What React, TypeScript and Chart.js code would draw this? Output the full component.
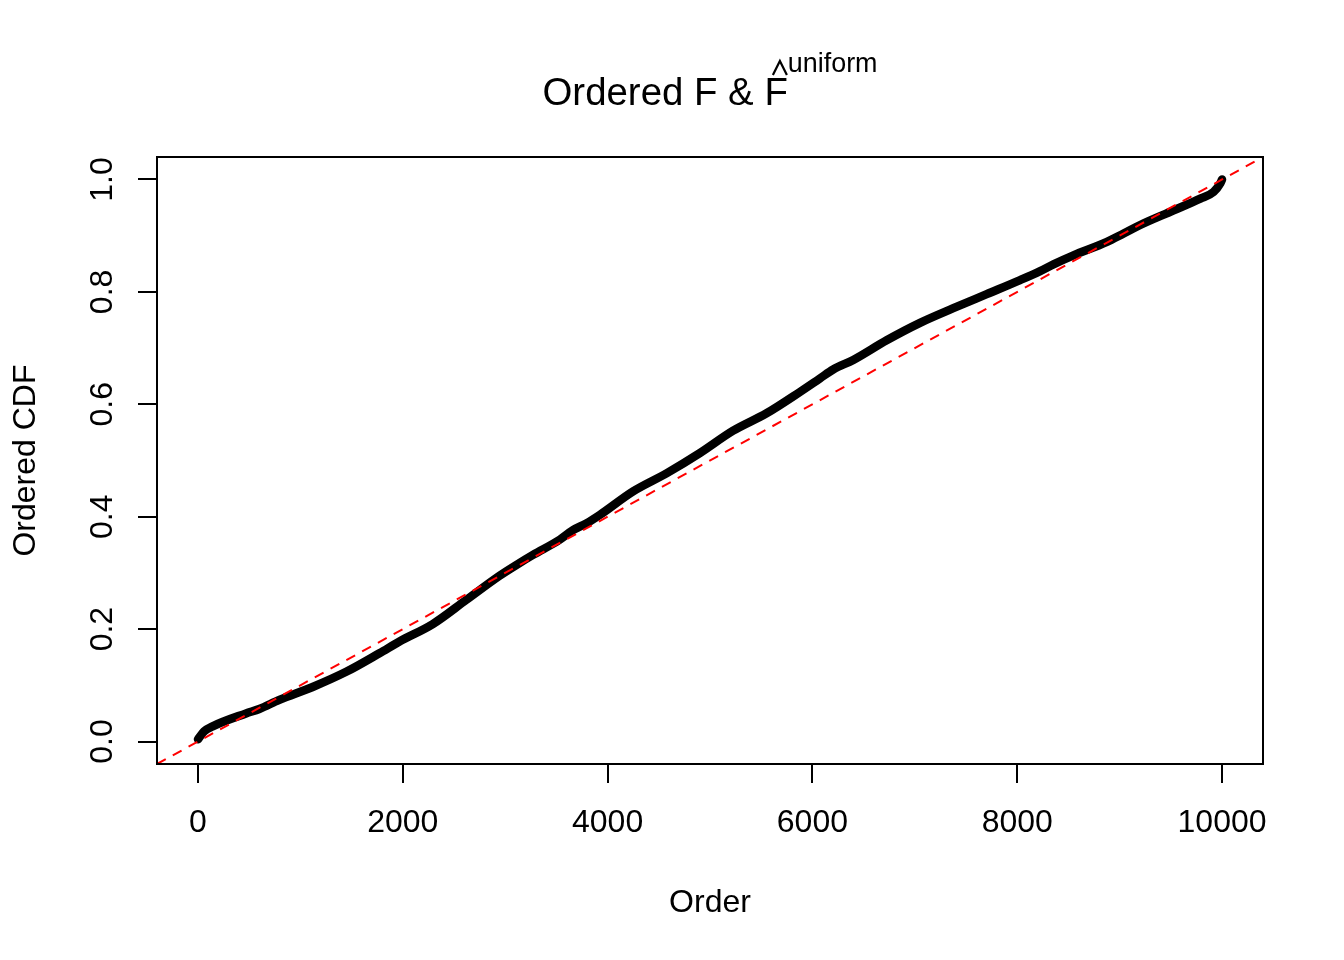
import React, { useEffect, useRef } from "react";
import { Chart, registerables } from "chart.js";

Chart.register(...registerables);

const orderX = [
  0, 60, 143, 469, 599, 795, 1120, 1447, 1772, 1968, 2293, 2620, 2945, 3108,
  3271, 3532, 3662, 3792, 3923, 4249, 4575, 4900, 5226, 5552, 5878, 6073,
  6203, 6399, 6725, 7051, 7376, 7702, 8028, 8224, 8354, 8549, 8876, 9039,
  9201, 9527, 9788, 9918, 9983, 10000,
];
const cdfY = [
  0.004, 0.018, 0.027, 0.05, 0.058, 0.074, 0.097, 0.124, 0.157, 0.178, 0.209,
  0.252, 0.295, 0.314, 0.332, 0.359, 0.376, 0.388, 0.403, 0.445, 0.477, 0.513,
  0.553, 0.584, 0.622, 0.646, 0.662, 0.679, 0.714, 0.745, 0.771, 0.796, 0.821,
  0.837, 0.849, 0.865, 0.889, 0.904, 0.919, 0.945, 0.966, 0.978, 0.993, 1.0,
];
// Reference line y = x / 10000 spanning the plot range
const refX = [-400, 10400];
const refY = [-0.04, 1.04];

const xTicks = [0, 2000, 4000, 6000, 8000, 10000];
const yTicks = [0, 0.2, 0.4, 0.6, 0.8, 1.0];

const titleMain = "Ordered F & ";
const titleHatLetter = "F";
const titleSup = "uniform";
const xLabel = "Order";
const yLabel = "Ordered CDF";

const FONT = "'Liberation Sans', Arial, Helvetica, sans-serif";

const decorPlugin = {
  id: "decor",
  afterDatasetsDraw(chart: any) {
    const { ctx, chartArea } = chart;
    ctx.save();
    ctx.strokeStyle = "#000";
    ctx.lineWidth = 2;
    ctx.strokeRect(
      chartArea.left,
      chartArea.top,
      chartArea.right - chartArea.left,
      chartArea.bottom - chartArea.top
    );
    ctx.restore();
  },
  afterDraw(chart: any) {
    const { ctx, chartArea } = chart;
    const yScale = chart.scales.y;
    const cx = (chartArea.left + chartArea.right) / 2;
    const cy = (chartArea.top + chartArea.bottom) / 2;
    ctx.save();
    ctx.fillStyle = "#000";

    // y tick labels (rotated, as in R)
    ctx.font = `32px ${FONT}`;
    ctx.textAlign = "center";
    ctx.textBaseline = "alphabetic";
    for (const v of yTicks) {
      const py = yScale.getPixelForValue(v);
      ctx.save();
      ctx.translate(chartArea.left - 45.5, py);
      ctx.rotate(-Math.PI / 2);
      ctx.fillText(v.toFixed(1), 0, 0);
      ctx.restore();
    }

    // axis titles
    ctx.fillText(xLabel, cx, 911.7);
    ctx.save();
    ctx.translate(35, cy);
    ctx.rotate(-Math.PI / 2);
    ctx.fillText(yLabel, 0, 0);
    ctx.restore();

    // main title with hat and superscript
    const mainFont = `38.4px ${FONT}`;
    const supFont = `26.9px ${FONT}`;
    ctx.font = mainFont;
    const wMain = ctx.measureText(titleMain).width;
    const wF = ctx.measureText(titleHatLetter).width;
    ctx.font = supFont;
    const wSup = ctx.measureText(titleSup).width;
    const total = wMain + wF + wSup;
    const x0 = cx - total / 2;
    const base = 105;
    ctx.textAlign = "left";
    ctx.font = mainFont;
    ctx.fillText(titleMain, x0, base);
    const fx = x0 + wMain;
    ctx.fillText(titleHatLetter, fx, base);
    ctx.font = supFont;
    ctx.fillText(titleSup, fx + wF, 71.5);
    // hat
    ctx.strokeStyle = "#000";
    ctx.lineWidth = 2.2;
    ctx.beginPath();
    ctx.moveTo(fx + 8.5, 75);
    ctx.lineTo(fx + 15.5, 61);
    ctx.lineTo(fx + 22.5, 75);
    ctx.stroke();
    ctx.restore();
  },
};

export default function App() {
  const canvasRef = useRef<HTMLCanvasElement | null>(null);

  useEffect(() => {
    const canvas = canvasRef.current;
    if (!canvas) return;
    const chart = new Chart(canvas, {
      type: "line",
      data: {
        datasets: [
          {
            label: "reference",
            data: refX.map((x, i) => ({ x, y: refY[i] })),
            borderColor: "#ff0000",
            borderWidth: 2,
            borderDash: [10, 8],
            pointRadius: 0,
            fill: false,
            order: 0,
          },
          {
            label: "ordered",
            data: orderX.map((x, i) => ({ x, y: cdfY[i] })),
            borderColor: "#000000",
            borderWidth: 8.5,
            borderCapStyle: "round",
            borderJoinStyle: "round",
            cubicInterpolationMode: "monotone",
            pointRadius: 0,
            fill: false,
            order: 1,
          },
        ],
      },
      options: {
        responsive: false,
        animation: false,
        devicePixelRatio: 1,
        layout: { padding: { top: 157, right: 81, left: 0, bottom: 0 } },
        plugins: {
          legend: { display: false },
          tooltip: { enabled: false },
          title: { display: false },
        },
        scales: {
          x: {
            type: "linear",
            min: -400,
            max: 10400,
            afterBuildTicks: (scale: any) => {
              scale.ticks = xTicks.map((v) => ({ value: v }));
            },
            afterFit: (scale: any) => {
              scale.height = 196;
            },
            ticks: {
              autoSkip: false,
              maxRotation: 0,
              minRotation: 0,
              padding: 21,
              color: "#000",
              font: { family: FONT, size: 32 },
              callback: (v: any) => String(v),
            },
            grid: {
              display: true,
              drawOnChartArea: false,
              drawTicks: true,
              tickLength: 19,
              color: "#000",
              lineWidth: 2,
            },
            border: { display: true, color: "#000", width: 2 },
          },
          y: {
            type: "linear",
            min: -0.04,
            max: 1.04,
            afterBuildTicks: (scale: any) => {
              scale.ticks = yTicks.map((v) => ({ value: v }));
            },
            afterFit: (scale: any) => {
              scale.width = 157;
            },
            ticks: { display: false },
            grid: {
              display: true,
              drawOnChartArea: false,
              drawTicks: true,
              tickLength: 19,
              color: "#000",
              lineWidth: 2,
            },
            border: { display: true, color: "#000", width: 2 },
          },
        },
      },
      plugins: [decorPlugin],
    });
    return () => chart.destroy();
  }, []);

  return (
    <div
      style={{
        position: "absolute",
        left: 0,
        top: 0,
        width: 1344,
        height: 960,
        background: "#fff",
      }}
    >
      <canvas
        ref={canvasRef}
        width={1344}
        height={960}
        style={{ width: 1344, height: 960, display: "block" }}
      />
    </div>
  );
}
